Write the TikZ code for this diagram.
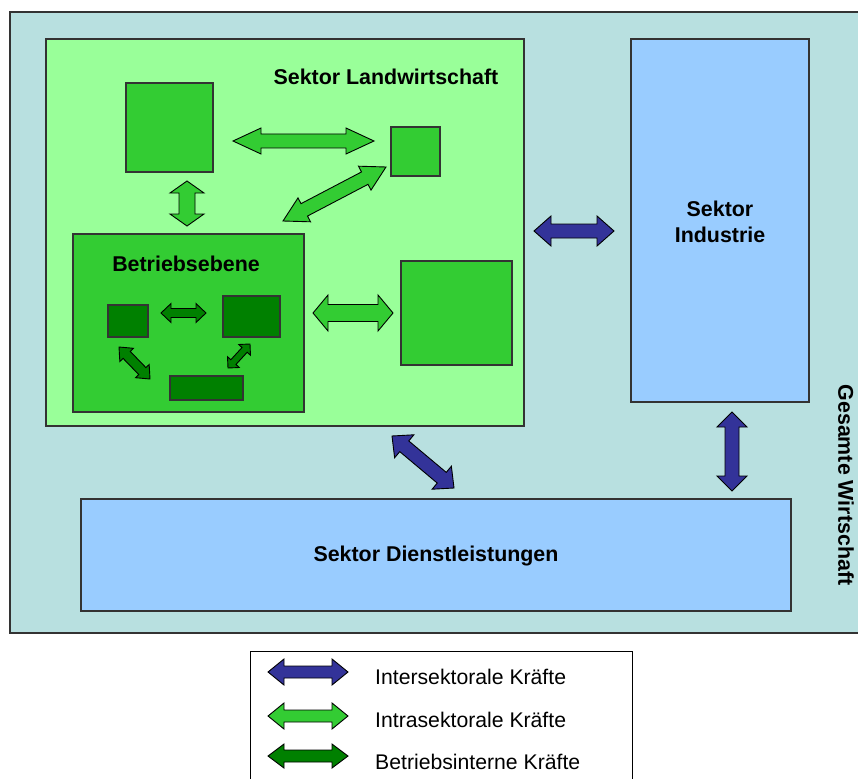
\documentclass[tikz,border=0pt]{standalone}
\usepackage{fontspec}
\setmainfont{Liberation Sans}
\usetikzlibrary{calc,fit}

\definecolor{wirtschaft}{HTML}{B8E0E0}
\definecolor{landw}{HTML}{99FF99}
\definecolor{midgreen}{HTML}{33CC33}
\definecolor{darkgreen}{HTML}{008000}
\definecolor{sektorblue}{HTML}{99CCFF}
\definecolor{interblue}{HTML}{333399}
\definecolor{edge}{HTML}{333333}

% double-headed block arrow between two named points
% #1 style, #2 from, #3 to, #4 head length, #5 shaft half width, #6 head half width
\newcommand\blockarrow[6]{%
  \draw[#1] (#2)
    -- ($(#2)!#4!(#3)!#6!90:(#3)$) -- ($(#2)!#4!(#3)!#5!90:(#3)$)
    -- ($(#3)!#4!(#2)!#5!-90:(#2)$) -- ($(#3)!#4!(#2)!#6!-90:(#2)$)
    -- (#3)
    -- ($(#3)!#4!(#2)!#6!90:(#2)$) -- ($(#3)!#4!(#2)!#5!90:(#2)$)
    -- ($(#2)!#4!(#3)!#5!-90:(#3)$) -- ($(#2)!#4!(#3)!#6!-90:(#3)$)
    -- cycle;}

\tikzset{
  area/.style={draw=edge, line width=1.2pt, inner sep=0pt, outer sep=0pt},
  outerarea/.style={area, fill=wirtschaft, line width=1.5pt},
  landarea/.style={area, fill=landw},
  midbox/.style={area, fill=midgreen},
  darkbox/.style={area, fill=darkgreen},
  bluebox/.style={area, fill=sektorblue},
  legendbox/.style={draw=black, line width=1pt, fill=white, inner sep=0pt},
  title/.style={font=\fontsize{21.4}{26}\selectfont\bfseries, align=center, inner sep=0pt},
  legendtext/.style={font=\fontsize{21.2}{24}\selectfont, anchor=west, inner sep=0pt},
  interarrow/.style={fill=interblue, draw=black, line width=0.9pt, line join=miter},
  intraarrow/.style={fill=midgreen, draw=black, line width=0.9pt, line join=miter},
  internarrow/.style={fill=darkgreen, draw=black, line width=0.9pt, line join=miter},
}

\begin{document}
\begin{tikzpicture}[x=1pt, y=-1pt]
\useasboundingbox (0,0) rectangle (858,778);
\clip (0,0) rectangle (858,778);

% economy as a whole
\node[outerarea, fit={(10,12) (880,633)}] (wirtschaft) {};
\node[title, rotate=-90] (wirtschaft-t) at (846,485) {Gesamte Wirtschaft};

% agricultural sector
\node[landarea, fit={(46,39) (524,426)}] (land) {};
\node[title] (land-t) at (386,77) {Sektor Landwirtschaft};
\node[midbox, fit={(126,83) (213,172)}] (fa) {};
\node[midbox, fit={(391,127) (440,176)}] (fb) {};
\node[midbox, fit={(401,261) (512,365)}] (fc) {};

% farm level
\node[midbox, fit={(73,234) (304,412)}] (betrieb) {};
\node[title] (betrieb-t) at (186,264) {Betriebsebene};
\node[darkbox, fit={(108,305) (148,337)}] (d1) {};
\node[darkbox, fit={(223,296) (280,337)}] (d2) {};
\node[darkbox, fit={(170,376) (243,400)}] (d3) {};

% other sectors
\node[bluebox, fit={(631,39) (809,402)}] (industrie) {};
\node[title] (industrie-t) at (720,222) {Sektor\\Industrie};
\node[bluebox, fit={(81,499) (791,611)}] (dienst) {};
\node[title] (dienst-t) at (436,556) {Sektor Dienstleistungen};

% arrow end points
\coordinate (fa-fb1) at (233,141);   \coordinate (fa-fb2) at (374,141);
\coordinate (fa-be1) at (187,181);   \coordinate (fa-be2) at (187,226);
\coordinate (fb-be1) at (386,167);   \coordinate (fb-be2) at (283,221);
\coordinate (be-fc1) at (313,313);   \coordinate (be-fc2) at (393,313);
\coordinate (d1-d21) at (161,313);   \coordinate (d1-d22) at (206,313);
\coordinate (d1-d31) at (119,347);   \coordinate (d1-d32) at (150,379);
\coordinate (d2-d31) at (250,344);   \coordinate (d2-d32) at (228,368);
\coordinate (la-in1) at (534,231);   \coordinate (la-in2) at (614,231);
\coordinate (la-di1) at (392,436);   \coordinate (la-di2) at (454,488);
\coordinate (in-di1) at (732,412);   \coordinate (in-di2) at (732,491);

% intrasectoral forces
\blockarrow{intraarrow}{fa-fb1}{fa-fb2}{28pt}{7pt}{13pt}
\blockarrow{intraarrow}{fa-be1}{fa-be2}{12pt}{8pt}{17pt}
\blockarrow{intraarrow}{fb-be1}{fb-be2}{24pt}{7pt}{13.5pt}
\blockarrow{intraarrow}{be-fc1}{be-fc2}{15pt}{8.5pt}{18pt}

% farm-internal forces
\blockarrow{internarrow}{d1-d21}{d1-d22}{10pt}{4.5pt}{9.5pt}
\blockarrow{internarrow}{d1-d31}{d1-d32}{11pt}{5pt}{9.5pt}
\blockarrow{internarrow}{d2-d31}{d2-d32}{8pt}{3.5pt}{8pt}

% intersectoral forces
\blockarrow{interarrow}{la-in1}{la-in2}{17pt}{7pt}{15pt}
\blockarrow{interarrow}{la-di1}{la-di2}{16pt}{7pt}{15pt}
\blockarrow{interarrow}{in-di1}{in-di2}{15pt}{7pt}{15pt}

% legend
\node[legendbox, fit={(250,651) (632,800)}] (legend) {};
\coordinate (lg1a) at (268,672); \coordinate (lg1b) at (348,672);
\coordinate (lg2a) at (268,716); \coordinate (lg2b) at (348,716);
\coordinate (lg3a) at (268,756); \coordinate (lg3b) at (348,756);
\blockarrow{interarrow}{lg1a}{lg1b}{16pt}{6pt}{13pt}
\blockarrow{intraarrow}{lg2a}{lg2b}{16pt}{6pt}{13pt}
\blockarrow{internarrow}{lg3a}{lg3b}{16pt}{6pt}{12pt}
\node[legendtext] (lg1-t) at (375,677) {Intersektorale Kräfte};
\node[legendtext] (lg2-t) at (375,720) {Intrasektorale Kräfte};
\node[legendtext] (lg3-t) at (375,762) {Betriebsinterne Kräfte};
\end{tikzpicture}
\end{document}
